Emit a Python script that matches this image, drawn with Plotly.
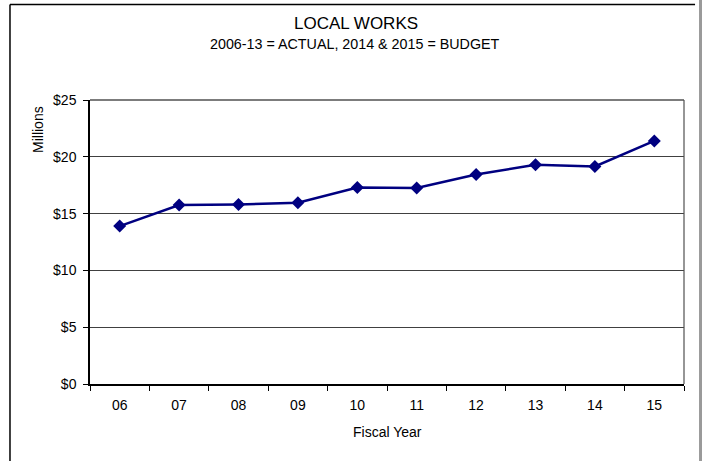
import plotly.graph_objects as go

# Fiscal years and spending (millions of dollars)
years = ["06", "07", "08", "09", "10", "11", "12", "13", "14", "15"]
spending = [13.9, 15.75, 15.8, 15.95, 17.3, 17.25, 18.45, 19.3, 19.15, 21.4]
y_ticks = [0, 5, 10, 15, 20, 25]
y_tick_labels = ["$0", "$5", "$10", "$15", "$20", "$25"]

FONT = "Liberation Sans, Arial, sans-serif"
NAVY = "#000080"

fig = go.Figure()
fig.add_trace(go.Scatter(
    x=years, y=spending, mode="lines+markers",
    line=dict(color=NAVY, width=2.5),
    marker=dict(symbol="diamond", size=10, color=NAVY),
    showlegend=False, hoverinfo="x+y",
))

fig.update_layout(
    width=702, height=461,
    margin=dict(l=90, r=18, t=100, b=77),
    paper_bgcolor="white", plot_bgcolor="white",
    font=dict(family=FONT, size=14, color="black"),
    xaxis=dict(
        type="category", range=[-0.5, 9.5],
        tickson="boundaries", ticks="outside", ticklen=5, tickcolor="black",
        showgrid=False, showline=True, linecolor="black", linewidth=1.5,
        tickfont=dict(size=14), zeroline=False, ticklabelstandoff=7,
    ),
    yaxis=dict(
        range=[0, 25], tickvals=y_ticks, ticktext=y_tick_labels,
        ticks="outside", ticklen=5, tickcolor="black",
        showgrid=True, gridcolor="#404040", gridwidth=1,
        showline=True, linecolor="black", linewidth=1.5,
        tickfont=dict(size=14), zeroline=False, ticklabelstandoff=4,
    ),
    shapes=[
        # plot frame (top and right edges)
        dict(type="line", xref="paper", yref="paper", x0=0, x1=1, y0=1, y1=1,
             line=dict(color="#505050", width=1.5)),
        dict(type="line", xref="paper", yref="paper", x0=1, x1=1, y0=0, y1=1,
             line=dict(color="#505050", width=1.2)),
        # chart border
        dict(type="line", xref="paper", yref="paper", x0=-0.1347, x1=1.0186,
             y0=1.336, y1=1.336, line=dict(color="black", width=1.5)),
        dict(type="line", xref="paper", yref="paper", x0=-0.1347, x1=-0.1347,
             y0=1.336, y1=-0.3, line=dict(color="black", width=1.5)),
        dict(type="rect", xref="paper", yref="paper", x0=1.0253, x1=1.04,
             y0=1.4, y1=-0.3, line=dict(width=0), fillcolor="#9a9a9a"),
    ],
    annotations=[
        dict(text="LOCAL WORKS", xref="paper", yref="paper",
             x=(356 - 90) / 594, y=1 + (100 - 23) / 284,
             showarrow=False, font=dict(size=17), xanchor="center", yanchor="middle"),
        dict(text="2006-13 = ACTUAL, 2014 & 2015 = BUDGET", xref="paper", yref="paper",
             x=(355 - 90) / 594, y=1 + (100 - 44) / 284,
             showarrow=False, font=dict(size=14.3), xanchor="center", yanchor="middle"),
        dict(text="Millions", xref="paper", yref="paper",
             x=(38 - 90) / 594, y=1 - (130 - 100) / 284, textangle=-90,
             showarrow=False, font=dict(size=14), xanchor="center", yanchor="middle"),
        dict(text="Fiscal Year", xref="paper", yref="paper",
             x=0.5, y=-(432 - 384) / 284,
             showarrow=False, font=dict(size=14), xanchor="center", yanchor="middle"),
    ],
)

fig.write_html("out.html")
